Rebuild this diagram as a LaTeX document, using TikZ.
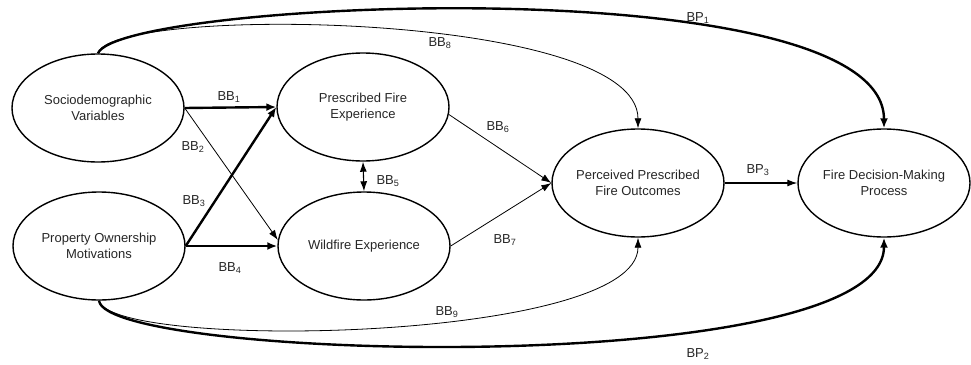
\documentclass[tikz,border=0pt]{standalone}
\usepackage{fontspec}
\setmainfont{Liberation Sans}
\usetikzlibrary{arrows.meta,shapes.geometric}

\tikzset{
  oval/.style={draw, ellipse, line width=1.4pt, inner sep=0pt, minimum width=172pt, minimum height=108pt},
  txt/.style={align=center, text=black!85, font=\fontsize{13}{16.5}\selectfont},
  lbl/.style={text=black!85, font=\fontsize{13}{16}\selectfont, inner sep=0pt},
  bold/.style={line width=2.4pt, -{Latex[length=10pt,width=8pt]}},
  fine/.style={line width=0.8pt, -{Latex[length=10pt,width=7pt]}},
  mid/.style={line width=1.1pt, -{Latex[length=10pt,width=7pt]}}
}

\begin{document}
\begin{tikzpicture}[x=1pt,y=-1pt]
        \useasboundingbox (0,0) rectangle (971,364);

        % Draw constructs
        \node[oval] (soc) at (98,108) {};
        \node[oval] (pfe) at (363,107) {};
        \node[oval] (pom) at (99,246) {};
        \node[oval] (wfe) at (364,246) {};
        \node[oval] (ppo) at (638,183) {};
        \node[oval] (fdm) at (884,183) {};
        \node[txt] (soc-t) at (soc) {Sociodemographic\\Variables};
        \node[txt] (pfe-t) at (pfe) {Prescribed Fire\\Experience};
        \node[txt] (pom-t) at (pom) {Property Ownership\\Motivations};
        \node[txt] (wfe-t) at (wfe) {Wildfire Experience};
        \node[txt] (ppo-t) at (ppo) {Perceived Prescribed\\Fire Outcomes};
        \node[txt] (fdm-t) at (fdm) {Fire Decision-Making\\Process};

        % Draw paths to experience
        \draw[bold] (soc.east) -- (pfe.west);
        \draw[fine] (soc.east) -- (wfe.176);
        \draw[bold] (pom.east) -- (pfe.west);
        \draw[bold] (pom.east) -- (wfe.west);
        \draw[mid][{Latex[length=10pt,width=7pt]}-{Latex[length=10pt,width=7pt]}] (pfe.south) -- (wfe.north);

        % Draw paths to outcomes
        \draw[fine] (pfe.-5) -- (ppo.west);
        \draw[fine] (wfe.east) -- (ppo.west);
        \draw[mid] (ppo.east) -- (fdm.west);

        % Draw long curves
        \draw[bold] (soc.north) .. controls +(22,-53) and +(0,-163) .. (fdm.north);
        \draw[fine] (soc.north) .. controls +(12,-48) and +(0,-118) .. (ppo.north);
        \draw[fine] (pom.south) .. controls +(13,50) and +(0,105) .. (ppo.south);
        \draw[bold] (pom.south) .. controls +(8,60) and +(0,143) .. (fdm.south);

        % Add labels
        \node[lbl] (bp1) at (698,18) {BP\textsubscript{1}};
        \node[lbl] (bb8) at (440,43) {BB\textsubscript{8}};
        \node[lbl] (bb1) at (229,97) {BB\textsubscript{1}};
        \node[lbl] (bb2) at (193,147) {BB\textsubscript{2}};
        \node[lbl] (bb3) at (194,201) {BB\textsubscript{3}};
        \node[lbl] (bb4) at (230,268) {BB\textsubscript{4}};
        \node[lbl] (bb5) at (388,181) {BB\textsubscript{5}};
        \node[lbl] (bb6) at (498,127) {BB\textsubscript{6}};
        \node[lbl] (bb7) at (505,240) {BB\textsubscript{7}};
        \node[lbl] (bp3) at (758,170) {BP\textsubscript{3}};
        \node[lbl] (bb9) at (447,312) {BB\textsubscript{9}};
        \node[lbl] (bp2) at (698,354) {BP\textsubscript{2}};
    \end{tikzpicture}
\end{document}
